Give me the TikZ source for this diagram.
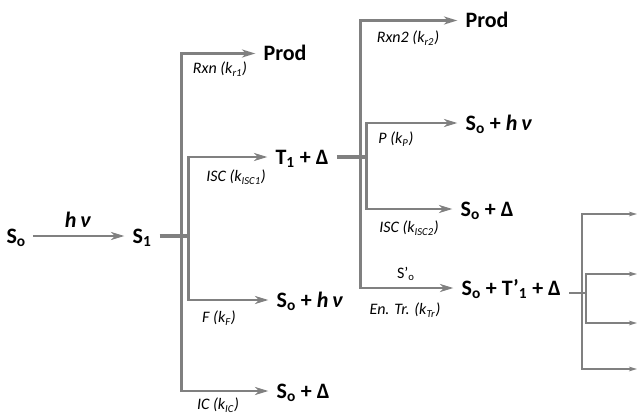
\documentclass[tikz,border=0pt]{standalone}
\usepackage{fontspec}
\setmainfont{Carlito}
\usetikzlibrary{arrows.meta,positioning}
\definecolor{linegray}{HTML}{808080}
\newcommand{\lo}[1]{\textsubscript{#1}}

\begin{document}
\begin{tikzpicture}[x=0.75pt,y=-0.75pt,
    spec/.style={anchor=west,inner sep=1pt,text height=11pt,text depth=0.5pt,
        font=\fontsize{16.5}{19}\selectfont\bfseries},
    rate/.style={inner sep=0pt,font=\fontsize{12}{14}\selectfont\itshape},
    arr/.style={draw=linegray,line width=1.9pt,shorten >=5pt,
        -{Stealth[length=10pt,width=6pt,inset=3pt]}},
    stub/.style={draw=linegray,line width=2.8pt,shorten <=5pt},
    arrsm/.style={draw=linegray,line width=1.1pt,-{Stealth[length=6pt,width=3.5pt,inset=1.5pt]}},
    stubsm/.style={draw=linegray,line width=1.6pt,shorten <=5pt}]
    \useasboundingbox (0,0) rectangle (639,414);

    \node[spec] (s0) at (5,236) {S\lo{o}};
    \node[spec] (s1) at (131,236) {S\lo{1}};
    \node[spec,anchor=center] (hv) at (78,220) {\textit{h\,ν}};
    \node[spec] (prod1) at (262,53.5) {Prod};
    \node[spec] (t1) at (274,157) {T\lo{1} + Δ};
    \node[spec] (fl) at (275,300) {S\lo{o} + \textit{h\,ν}};
    \node[spec] (ic) at (275,391) {S\lo{o} + Δ};
    \node[spec] (prod2) at (464,20.5) {Prod};
    \node[spec] (ph) at (464,123) {S\lo{o} + \textit{h\,ν}};
    \node[spec] (isc2) at (459,209) {S\lo{o} + Δ};
    \node[spec] (tr) at (460,288) {S\lo{o} + T’\lo{1} + Δ};

    \coordinate (j1) at (181.7,236);
    \coordinate (k1) at (188.3,236);
    \coordinate (j2) at (360.7,157);
    \coordinate (k2) at (366.7,157);
    \coordinate (j3) at (582,293);
    \coordinate (k3) at (586,293);
    \coordinate (e1) at (637,214);
    \coordinate (e2) at (637,274);
    \coordinate (e3) at (637,323);
    \coordinate (e4) at (637,369);

    \draw[arr,shorten <=4pt] (s0) -- (s1);
    \draw[stub] (s1.east) -- (k1);
    \draw[arr] (j1) |- (prod1);
    \draw[arr] (j1) |- (ic);
    \draw[arr] (k1) |- (t1);
    \draw[arr] (k1) |- (fl);

    \draw[stub] (t1.east) -- (k2);
    \draw[arr] (j2) |- (prod2);
    \draw[arr] (j2) |- (tr);
    \draw[arr] (k2) |- (ph);
    \draw[arr] (k2) |- (isc2);

    \draw[stubsm] (tr.east |- k3) -- (k3);
    \draw[arrsm] (j3) |- (e1);
    \draw[arrsm] (j3) |- (e4);
    \draw[arrsm] (k3) |- (e2);
    \draw[arrsm] (k3) |- (e3);

    \node[rate] (r1) at (220,69) {Rxn (k\lo{r1})};
    \node[rate] (isc1) at (236,177) {ISC (k\lo{ISC1})};
    \node[rate] (kf) at (219,318) {F (k\lo{F})};
    \node[rate] (kic) at (218,405) {IC (k\lo{IC})};
    \node[rate] (r2) at (408,38) {Rxn2 (k\lo{r2})};
    \node[rate] (kp) at (396,139) {P (k\lo{P})};
    \node[rate] (kisc2) at (409,228) {ISC (k\lo{ISC2})};
    \node[rate,font=\fontsize{12}{14}\selectfont] (s0p) at (406,274) {S’\lo{o}};
    \node[rate] (ktr) at (405,310) {En. Tr. (k\lo{Tr})};
\end{tikzpicture}
\end{document}
